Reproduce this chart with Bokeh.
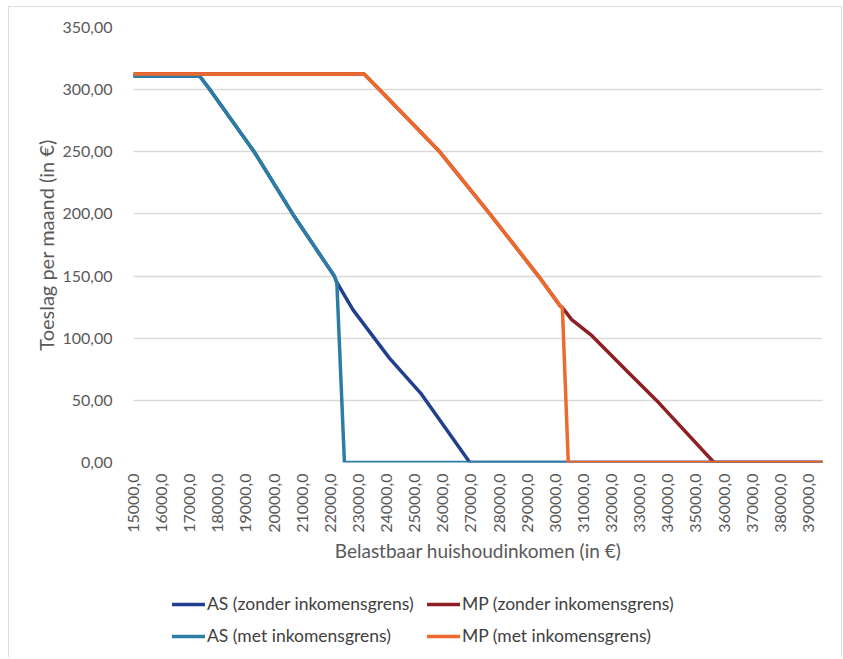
from bokeh.plotting import figure
from bokeh.layouts import column
from bokeh.models import Range1d, FixedTicker, CustomJSTickFormatter, Legend, LegendItem
from bokeh.embed import file_html
from bokeh.resources import INLINE

# ---- data ----
x_ticks = list(range(15000, 40000, 1000))
y_ticks = [0, 50, 100, 150, 200, 250, 300, 350]

as_zonder_x = [15000, 17350, 17720, 19290, 20660, 22140, 22230, 22800, 24100, 25240, 26960, 39500]
as_zonder_y = [311, 311, 300, 250, 200, 150, 145, 123, 84, 55, 0, 0]

mp_zonder_x = [15000, 23200, 23750, 25890, 27670, 29400, 30170, 30250, 30580, 31300, 32660, 33680, 35640, 39500]
mp_zonder_y = [312.5, 312.5, 300, 250, 200, 150, 126, 124.7, 115, 102, 71, 48, 0, 0]

as_met_x = [15000, 17350, 17720, 19290, 20660, 22140, 22230, 22500, 39500]
as_met_y = [311, 311, 300, 250, 200, 150, 145, 0, 0]

mp_met_x = [15000, 23200, 23750, 25890, 27670, 29400, 30170, 30250, 30460, 39500]
mp_met_y = [312.5, 312.5, 300, 250, 200, 150, 126, 124.7, 0, 0]

labels = ["AS (zonder inkomensgrens)", "MP (zonder inkomensgrens)",
          "AS (met inkomensgrens)", "MP (met inkomensgrens)"]
colors = ["#203F8F", "#8E1F22", "#2C7DA6", "#EE6A2C"]

FONT = "Lato"
TXT = "#595959"
BORDER = "1px solid #dcdcdc"

p = figure(width=834, height=569, output_backend="svg", toolbar_location=None,
           x_range=Range1d(15000, 39500), y_range=Range1d(0, 350),
           min_border_left=124, min_border_right=21, min_border_top=20, min_border_bottom=114)
p.margin = (6, 0, 0, 8)
p.styles = {"border-left": BORDER, "border-top": BORDER, "border-right": BORDER,
            "box-sizing": "border-box"}
p.outline_line_color = None
p.background_fill_color = "white"
p.border_fill_color = "white"

# grid
p.xgrid.visible = False
p.ygrid.ticker = FixedTicker(ticks=y_ticks)
p.ygrid.grid_line_color = "#d9d9d9"
p.ygrid.grid_line_width = 1.5

# y axis
p.yaxis.ticker = FixedTicker(ticks=y_ticks)
p.yaxis.formatter = CustomJSTickFormatter(code="return tick.toFixed(2).replace('.', ',');")
p.yaxis.axis_line_color = None
p.yaxis.major_tick_line_color = None
p.yaxis.minor_tick_line_color = None
p.yaxis.major_label_standoff = 15
p.yaxis.major_label_text_font = FONT
p.yaxis.major_label_text_font_size = "16px"
p.yaxis.major_label_text_color = TXT
p.yaxis.axis_label = "Toeslag per maand (in €)"
p.yaxis.axis_label_text_font = FONT
p.yaxis.axis_label_text_font_size = "20px"
p.yaxis.axis_label_text_font_style = "normal"
p.yaxis.axis_label_text_color = TXT
p.yaxis.axis_label_standoff = 1

# x axis
p.xaxis.ticker = FixedTicker(ticks=x_ticks)
p.xaxis.formatter = CustomJSTickFormatter(code="return tick.toFixed(1).replace('.', ',');")
p.xaxis.axis_line_color = None
p.xaxis.major_tick_line_color = None
p.xaxis.minor_tick_line_color = None
p.xaxis.major_label_orientation = 3.14159265 / 2
p.xaxis.major_label_standoff = 5
p.xaxis.major_label_text_font = FONT
p.xaxis.major_label_text_font_size = "16px"
p.xaxis.major_label_text_color = TXT
p.xaxis.axis_label = "Belastbaar huishoudinkomen (in €)"
p.xaxis.axis_label_text_font = FONT
p.xaxis.axis_label_text_font_size = "19px"
p.xaxis.axis_label_text_font_style = "normal"
p.xaxis.axis_label_text_color = TXT
p.xaxis.axis_label_standoff = 3

series = [(as_zonder_x, as_zonder_y), (mp_zonder_x, mp_zonder_y),
          (as_met_x, as_met_y), (mp_met_x, mp_met_y)]
for (xs, ys), c in zip(series, colors):
    p.line(xs, ys, line_color=c, line_width=3.5, line_join="round", line_cap="round")

# ---- legend strip below the chart (same series, drawn out of view) ----
pl = figure(width=834, height=82, output_backend="svg", toolbar_location=None,
            x_axis_type=None, y_axis_type=None,
            x_range=Range1d(15000, 39500), y_range=Range1d(-20, -10),
            min_border=0)
pl.margin = (0, 0, 0, 8)
pl.styles = {"border-left": BORDER, "border-right": BORDER, "box-sizing": "border-box"}
pl.outline_line_color = None
pl.grid.visible = False
leg_renderers = [pl.line(xs, ys, line_color=c, line_width=3.5, line_cap="round")
                 for (xs, ys), c in zip(series, colors)]

legend = Legend(items=[LegendItem(label=l, renderers=[r]) for l, r in zip(labels, leg_renderers)],
                location=(39, 11), orientation="horizontal", ncols=2)
legend.padding = 0
legend.margin = 0
legend.spacing = 11
legend.glyph_width = 33
legend.glyph_height = 20
legend.label_height = 20
legend.label_width = 209
legend.label_standoff = 2
legend.label_text_font = FONT
legend.label_text_font_size = "17.5px"
legend.label_text_color = "#404040"
legend.border_line_color = None
legend.background_fill_alpha = 0
pl.add_layout(legend, "center")

layout = column(p, pl, spacing=0)
open("out.html", "w").write(file_html(layout, INLINE))
